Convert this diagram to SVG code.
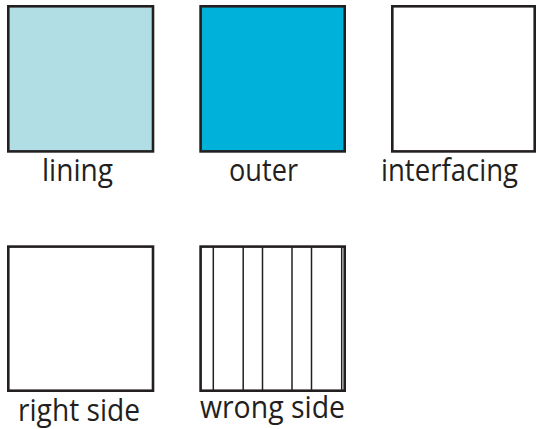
<svg xmlns="http://www.w3.org/2000/svg" width="538" height="429" viewBox="0 0 538 429">
<style>
.box{stroke:#231f20;stroke-width:2.6;}
.ln{stroke:#231f20;stroke-width:1.5;}
text{font-family:"Open Sans","Liberation Sans",sans-serif;font-size:30.5px;fill:#231f20;}
</style>
<rect width="538" height="429" fill="#ffffff"/>
<g id="lining">
<rect class="box" x="8.3" y="6.3" width="144.7" height="145.1" fill="#b0dee4"/>
<text x="42" y="181" textLength="71" lengthAdjust="spacingAndGlyphs">lining</text>
</g>
<g id="outer">
<rect class="box" x="200.6" y="6.3" width="144.1" height="145.1" fill="#00b1d9"/>
<text x="229" y="181" textLength="69" lengthAdjust="spacingAndGlyphs">outer</text>
</g>
<g id="interfacing">
<rect class="box" x="392.3" y="6.3" width="142.4" height="145.1" fill="#ffffff"/>
<text x="381" y="181" textLength="137" lengthAdjust="spacingAndGlyphs">interfacing</text>
</g>
<g id="right-side">
<rect class="box" x="8.3" y="246.6" width="144.7" height="144.1" fill="#ffffff"/>
<text x="18" y="421" textLength="122" lengthAdjust="spacingAndGlyphs">right side</text>
</g>
<g id="wrong-side">
<rect class="box" x="200.6" y="246.6" width="144.1" height="144.1" fill="#ffffff"/>
<g>
<line class="ln" x1="213.3" y1="247" x2="213.3" y2="390"/>
<line class="ln" x1="243.2" y1="247" x2="243.2" y2="390"/>
<line class="ln" x1="262.5" y1="247" x2="262.5" y2="390"/>
<line class="ln" x1="292" y1="247" x2="292" y2="390"/>
<line class="ln" x1="311.5" y1="247" x2="311.5" y2="390"/>
<line class="ln" x1="341.7" y1="247" x2="341.7" y2="390"/>
</g>
<text x="200" y="418" textLength="145" lengthAdjust="spacingAndGlyphs">wrong side</text>
</g>
</svg>
